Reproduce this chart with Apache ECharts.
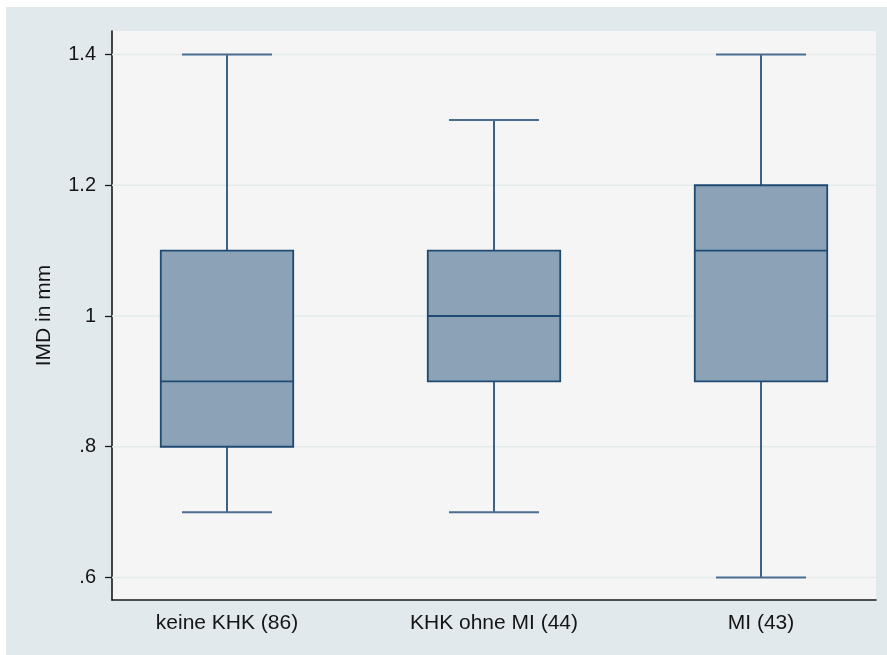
<!DOCTYPE html>
<html>
<head>
<meta charset="utf-8">
<script src="https://cdn.jsdelivr.net/npm/echarts@6/dist/echarts.min.js"></script>
<style>
html,body{margin:0;padding:0;background:#fff;}
#c{width:887px;height:655px;}
</style>
</head>
<body>
<div id="c"></div>
<script>
// ---- data ----
const categories = ['keine KHK (86)', 'KHK ohne MI (44)', 'MI (43)'];
const lowerWhisker = [0.7, 0.7, 0.6];
const quartile1 = [0.8, 0.9, 0.9];
const medians = [0.9, 1.0, 1.1];
const quartile3 = [1.1, 1.1, 1.2];
const upperWhisker = [1.4, 1.3, 1.4];
const yTicks = [0.6, 0.8, 1.0, 1.2, 1.4];
const yTickLabels = ['.6', '.8', '1', '1.2', '1.4'];
const yTitle = 'IMD in mm';

// ---- layout ----
const W = 887, H = 655;
const frame = {left: 112, top: 31, right: 11, bottom: 55};
const innerTopPx = 54.5, innerBottomPx = 577.5;
const bandPx = 267, firstCenter = 227;
const pxPerUnit = (innerBottomPx - innerTopPx) / (yTicks[yTicks.length-1] - yTicks[0]);
const frameMin = yTicks[0] - ((H - frame.bottom) - innerBottomPx) / pxPerUnit;
const frameMax = yTicks[yTicks.length-1] + (innerTopPx - frame.top) / pxPerUnit;
const xMin = -(firstCenter - frame.left) / bandPx;
const xMax = xMin + (W - frame.left - frame.right) / bandPx;
const catIdx = categories.map((c, i) => i);

const FONT = "'Liberation Sans', Arial, sans-serif";
const lineCol = '#2a5279';

const boxData = categories.map((c, i) => [i, lowerWhisker[i], quartile1[i], medians[i], quartile3[i], upperWhisker[i]]);

function renderBox(params, api) {
  const i = api.value(0);
  const pLow = api.coord([i, api.value(1)]);
  const pQ1 = api.coord([i, api.value(2)]);
  const pMed = api.coord([i, api.value(3)]);
  const pQ3 = api.coord([i, api.value(4)]);
  const pHigh = api.coord([i, api.value(5)]);
  const band = Math.abs(api.coord([i + 1, 1])[0] - pMed[0]);
  const bw = band * 0.496, cw = band * 0.337;
  const x = pMed[0];
  const ls = {stroke: lineCol, lineWidth: 1.8};
  return {type: 'group', children: [
    {type: 'line', shape: {x1: x, y1: pHigh[1], x2: x, y2: pQ3[1]}, style: ls},
    {type: 'line', shape: {x1: x, y1: pQ1[1], x2: x, y2: pLow[1]}, style: ls},
    {type: 'line', shape: {x1: x - cw/2, y1: pHigh[1], x2: x + cw/2, y2: pHigh[1]}, style: {stroke: '#4a6d91', lineWidth: 2}},
    {type: 'line', shape: {x1: x - cw/2, y1: pLow[1], x2: x + cw/2, y2: pLow[1]}, style: {stroke: '#4a6d91', lineWidth: 2}},
    {type: 'rect', shape: {x: x - bw/2, y: pQ3[1], width: bw, height: pQ1[1] - pQ3[1]}, style: {fill: '#8ca2b6', stroke: '#1f4a72', lineWidth: 1.8}},
    {type: 'line', shape: {x1: x - bw/2, y1: pMed[1], x2: x + bw/2, y2: pMed[1]}, style: {stroke: '#1f4a72', lineWidth: 1.8}}
  ]};
}

function renderGrid(params, api) {
  const v = api.value(0);
  const a = api.coord([xMin, v]);
  const b = api.coord([xMax, v]);
  return {type: 'line', shape: {x1: a[0], y1: a[1], x2: b[0], y2: b[1]}, style: {stroke: '#e5ebeb', lineWidth: 1.5}};
}

const chart = echarts.init(document.getElementById('c'), null, {renderer: 'canvas'});
chart.setOption({
  backgroundColor: '#ffffff',
  animation: false,
  graphic: [{type: 'rect', left: 6, top: 7, shape: {width: W - 6, height: H - 7}, style: {fill: '#e1e9ec'}, z: -10, silent: true}],
  grid: [
    {left: frame.left, top: frame.top, right: frame.right, bottom: frame.bottom, show: true, backgroundColor: '#f5f5f5', borderWidth: 0, containLabel: false}
  ],
  xAxis: [
    {type: 'value', min: xMin, max: xMax, position: 'bottom',
     axisLine: {show: true, onZero: false, lineStyle: {color: '#1a1a1a', width: 1.6}},
     axisTick: {show: false}, splitLine: {show: false},
     axisLabel: {show: true, customValues: catIdx, margin: 13, fontFamily: FONT, fontSize: 21, color: '#151515',
       formatter: v => { const k = Math.round(v); return (Math.abs(k - v) < 1e-6 && categories[k] !== undefined) ? categories[k] : ''; }}}
  ],
  yAxis: [
    {type: 'value', min: frameMin, max: frameMax, position: 'left',
     axisLine: {show: true, onZero: false, lineStyle: {color: '#1a1a1a', width: 1.6}},
     splitLine: {show: false},
     axisTick: {show: true, customValues: yTicks, length: 7, lineStyle: {color: '#1a1a1a', width: 1.3}},
     axisLabel: {show: true, customValues: yTicks, margin: 16, fontFamily: FONT, fontSize: 20, color: '#151515',
       formatter: v => { const k = yTicks.findIndex(t => Math.abs(t - v) < 1e-9); return k >= 0 ? yTickLabels[k] : ''; }},
     name: yTitle, nameLocation: 'middle', nameGap: 57,
     nameTextStyle: {fontFamily: FONT, fontSize: 21, color: '#151515'}}
  ],
  series: [
    {type: 'custom', data: yTicks.map(v => [v]), encode: {y: 0}, renderItem: renderGrid, z: 1, silent: true, clip: false},
    {type: 'custom', data: boxData, encode: {x: 0, y: [1, 2, 3, 4, 5]}, renderItem: renderBox, z: 2, silent: true, clip: false}
  ]
});
</script>
</body>
</html>
